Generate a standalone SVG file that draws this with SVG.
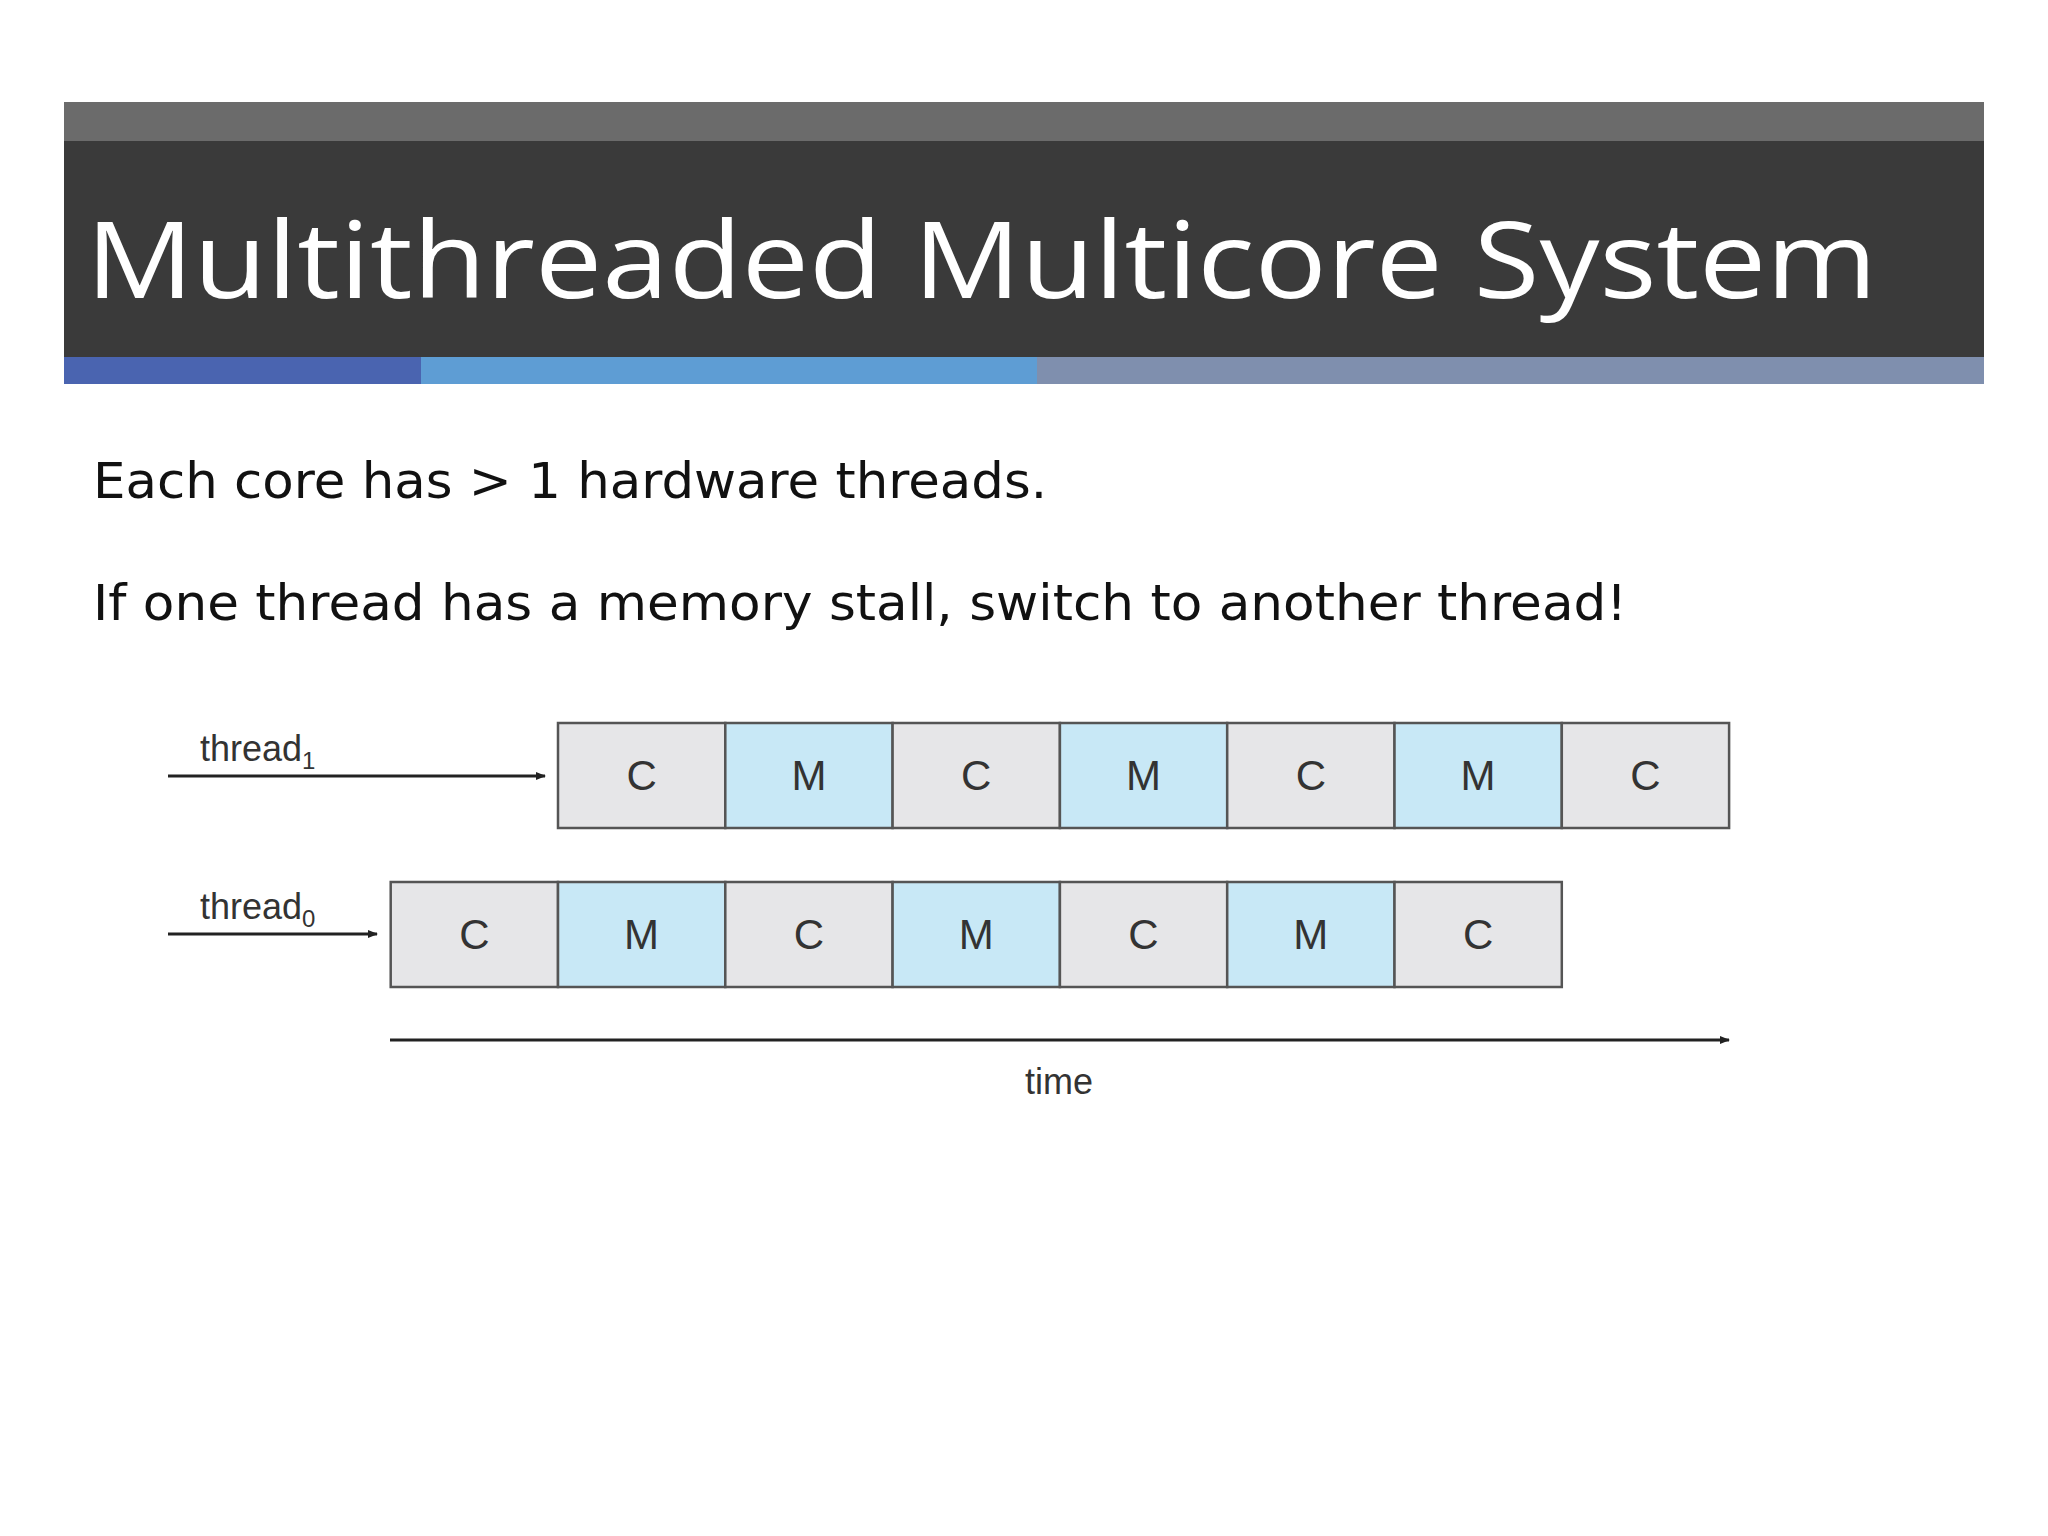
<svg xmlns="http://www.w3.org/2000/svg" width="2048" height="1536" viewBox="0 0 2048 1536">
<style>
.c{fill:#e6e6e8;stroke:#555;stroke-width:2.5}
.m{fill:#c8e8f6;stroke:#555;stroke-width:2.5}
.bl{font-family:"Liberation Sans",Arial,sans-serif;font-size:42px;fill:#333;text-anchor:middle}
.lb{font-family:"Liberation Sans",Arial,sans-serif;font-size:36px;fill:#333}
.body{font-family:"DejaVu Sans",Verdana,sans-serif;font-size:50px;fill:#111}
.ar{stroke:#222;stroke-width:3;fill:none;marker-end:url(#ah)}
</style>
<defs><marker id="ah" markerWidth="10" markerHeight="8" refX="9" refY="4" orient="auto" markerUnits="userSpaceOnUse" viewBox="0 0 10 8"><path d="M0,0 L10,4 L0,8 Z" fill="#222"/></marker></defs>
<rect width="2048" height="1536" fill="#fff"/>
<g id="header">
<rect x="64" y="102" width="1920" height="39" fill="#6b6b6b"/>
<rect x="64" y="141" width="1920" height="216" fill="#3a3a3a"/>
<rect x="64" y="357" width="357" height="27" fill="#4a64b0"/>
<rect x="421" y="357" width="616" height="27" fill="#5e9dd4"/>
<rect x="1037" y="357" width="947" height="27" fill="#7f8fae"/>
<text x="86" y="298" font-family="'Open Sans','Noto Sans',sans-serif" font-size="106" fill="#fff" textLength="1791" lengthAdjust="spacingAndGlyphs">Multithreaded Multicore System</text>
</g>
<g id="text">
<text class="body" x="93" y="498" textLength="954" lengthAdjust="spacingAndGlyphs">Each core has &gt; 1 hardware threads.</text>
<text class="body" x="93" y="620" textLength="1534" lengthAdjust="spacingAndGlyphs">If one thread has a memory stall, switch to another thread!</text>
</g>
<g id="thread1">
<rect class="c" x="558" y="723" width="167.3" height="105"/>
<rect class="m" x="725.3" y="723" width="167.3" height="105"/>
<rect class="c" x="892.6" y="723" width="167.3" height="105"/>
<rect class="m" x="1059.9" y="723" width="167.3" height="105"/>
<rect class="c" x="1227.2" y="723" width="167.3" height="105"/>
<rect class="m" x="1394.5" y="723" width="167.3" height="105"/>
<rect class="c" x="1561.8" y="723" width="167.3" height="105"/>
<text class="bl" x="641.6" y="790">C</text><text class="bl" x="808.9" y="790">M</text><text class="bl" x="976.2" y="790">C</text><text class="bl" x="1143.5" y="790">M</text><text class="bl" x="1310.8" y="790">C</text><text class="bl" x="1478.1" y="790">M</text><text class="bl" x="1645.4" y="790">C</text>
<text class="lb" x="200" y="761">thread<tspan font-size="24" dy="8">1</tspan></text>
</g>
<g id="thread0">
<rect class="c" x="390.7" y="882" width="167.3" height="105"/>
<rect class="m" x="558" y="882" width="167.3" height="105"/>
<rect class="c" x="725.3" y="882" width="167.3" height="105"/>
<rect class="m" x="892.6" y="882" width="167.3" height="105"/>
<rect class="c" x="1059.9" y="882" width="167.3" height="105"/>
<rect class="m" x="1227.2" y="882" width="167.3" height="105"/>
<rect class="c" x="1394.5" y="882" width="167.3" height="105"/>
<text class="bl" x="474.3" y="949">C</text><text class="bl" x="641.6" y="949">M</text><text class="bl" x="808.9" y="949">C</text><text class="bl" x="976.2" y="949">M</text><text class="bl" x="1143.5" y="949">C</text><text class="bl" x="1310.8" y="949">M</text><text class="bl" x="1478.1" y="949">C</text>
<text class="lb" x="200" y="919">thread<tspan font-size="24" dy="8">0</tspan></text>
</g>
<g id="connectors">
<line class="ar" x1="168" y1="776" x2="545" y2="776"/>
<line class="ar" x1="168" y1="934" x2="377" y2="934"/>
<line class="ar" x1="390" y1="1040" x2="1729" y2="1040"/>
</g>
<text class="lb" x="1059" y="1094" text-anchor="middle">time</text>
</svg>
